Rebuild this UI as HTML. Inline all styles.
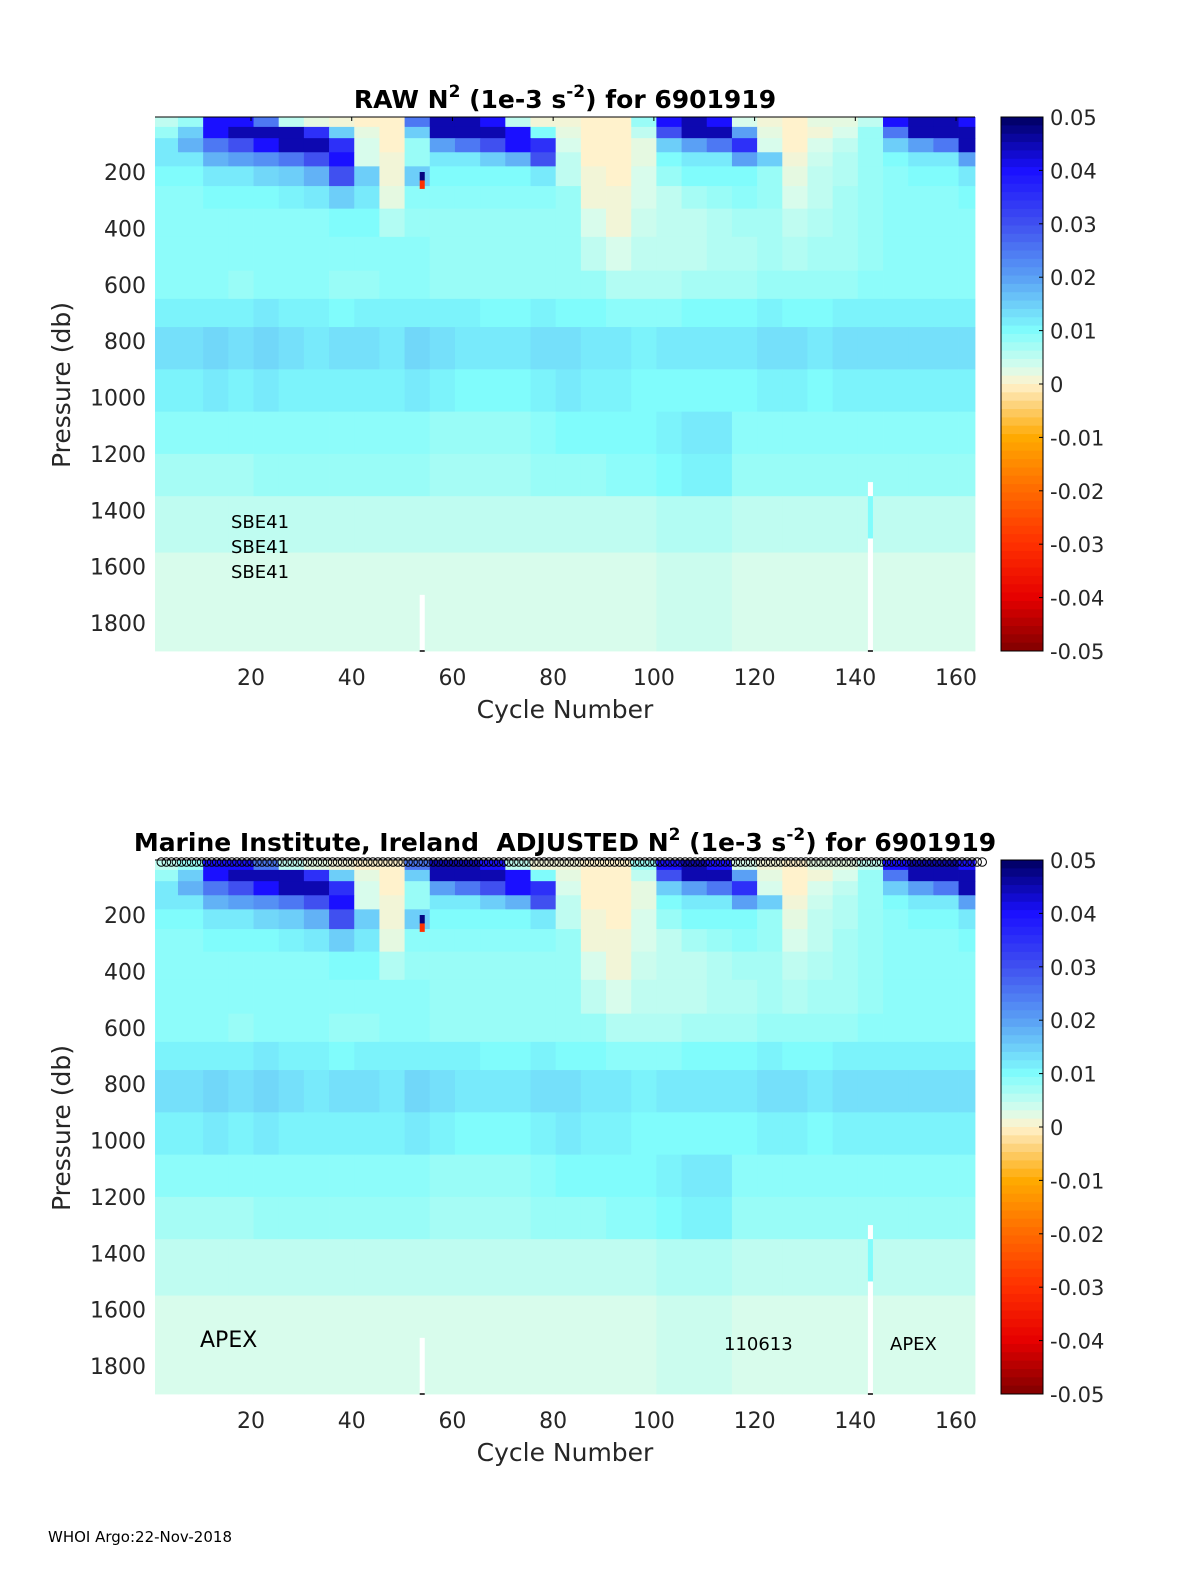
<!DOCTYPE html>
<html><head><meta charset="utf-8"><title>N2 sections 6901919</title>
<style>
html,body{margin:0;padding:0;background:#fff;}
svg{display:block;font-family:"DejaVu Sans","Liberation Sans",sans-serif;}
text{white-space:pre;}
</style></head>
<body>
<svg id="fig" width="1200" height="1575" viewBox="0 0 1200 1575" xmlns="http://www.w3.org/2000/svg">
<g id="panels"></g>
<text x="48" y="1542" font-size="15" fill="#000">WHOI Argo:22-Nov-2018</text>
</svg>
<script>
// ---- data (units 1e-3 of colour scale, i.e. value/1000) ----
const pressureEdges = [5,40,80,130,180,250,330,430,550,650,750,900,1050,1200,1350,1550,1900];
const cycleGroupSize = 5;
const band0 = [5,8,40,40,25,5,2,1,0,0,25,45,45,40,5,1,1,0,0,8,40,45,40,3,1,0,2,2,5,40,45,45,40];
const band1 = [8,15,40,45,45,45,35,15,2,0,15,45,45,45,40,10,2,0,0,5,30,45,45,20,2,0,1,3,8,25,45,45,45];
const band2 = [12,18,25,30,40,45,45,35,3,0,8,20,25,30,40,35,3,0,0,2,15,20,25,35,3,0,3,5,8,15,20,25,45];
const band3 = [12,12,18,20,22,25,30,40,3,1,8,12,12,15,18,30,5,0,0,2,10,12,12,20,15,1,4,6,8,10,12,12,20];
const band4 = [10,10,12,12,14,15,18,30,15,1,15,10,10,10,10,12,5,1,0,3,8,10,10,10,8,2,5,6,8,9,10,10,12];
const band5 = [9,9,10,10,10,11,12,15,12,2,9,9,9,9,9,9,8,1,1,3,5,7,8,9,8,3,5,7,8,9,9,9,10];
const band6 = [9,9,9,9,9,9,9,10,10,6,8,8,8,8,8,8,8,3,1,4,5,5,6,7,7,5,6,7,8,9,9,9,9];
const band7 = [9,9,9,9,9,9,9,9,9,9,9,8,8,8,8,8,8,5,3,5,5,5,6,6,7,6,7,7,8,9,9,9,9];
const band8 = [9,9,9,8,9,9,9,8,8,9,9,8,8,8,8,8,8,8,6,6,6,7,7,7,8,8,8,8,9,9,9,9,9];
const band9 = [11,11,11,11,12,11,11,10,11,11,11,11,11,10,10,11,10,10,9,9,9,10,10,10,11,10,10,11,11,11,11,11,11];
const band10 = [13,13,14,13,14,13,12,13,13,12,14,13,12,12,12,13,13,12,12,11,12,12,12,12,13,13,12,13,13,13,13,13,13];
const band11 = [11,11,12,11,12,11,11,11,11,11,12,11,10,10,10,11,12,11,11,10,10,10,10,10,11,11,10,11,11,11,11,11,11];
const band12 = [9,9,9,9,9,9,9,9,9,9,9,8,8,8,8,9,10,10,10,10,11,12,12,9,9,9,9,9,9,9,9,9,9];
const band13 = [7,7,7,7,8,8,8,8,8,8,8,7,7,7,7,8,8,8,9,9,10,11,11,8,8,8,8,8,8,8,8,8,8];
const band14 = [5,5,5,5,5,5,5,5,5,5,5,5,5,5,5,5,5,5,5,5,6,6,6,5,5,5,5,5,5,5,5,5,5];
const band15 = [3,3,3,3,3,3,3,3,3,3,3,3,3,3,3,3,3,3,3,3,4,4,4,3,3,3,3,3,3,3,3,3,3];
const bands = [band0,band1,band2,band3,band4,band5,band6,band7,band8,band9,band10,band11,band12,band13,band14,band15];
// special single-cycle cells: cycle, pTop, pBottom, value (NaN = missing/white)
const specialCycles = [54,54,54,143,143,143];
const specialTop    = [200,230,1700,1300,1350,1500];
const specialBottom = [230,260,1900,1350,1500,1900];
const specialValue  = [48,-30,NaN,NaN,10,NaN];
const xTicks = [20,40,60,80,100,120,140,160];
const yTicks = [200,400,600,800,1000,1200,1400,1600,1800];
const cbTicks = [0.05,0.04,0.03,0.02,0.01,0,-0.01,-0.02,-0.03,-0.04,-0.05];
const cbLabels = ["0.05","0.04","0.03","0.02","0.01","0","-0.01","-0.02","-0.03","-0.04","-0.05"];
const nCycles = 164;

// colormap
const cmapV = [-50,-40,-30,-20,-10,-4,0,3,10,20,30,40,50];
const cmapC = [[128,0,0],[230,0,0],[255,48,0],[255,106,0],[255,170,0],[253,210,122],[255,242,204],[216,252,236],[128,252,252],[90,160,245],[64,80,240],[26,16,255],[0,0,96]];
function cmap(v){
  v=Math.max(-50,Math.min(50,v));
  for(let i=0;i<cmapV.length-1;i++){
    if(v<=cmapV[i+1]){const t=(v-cmapV[i])/(cmapV[i+1]-cmapV[i]);
      const a=cmapC[i],b=cmapC[i+1];
      return 'rgb('+a.map((c,k)=>Math.round(c+(b[k]-c)*t)).join(',')+')';}
  }
  return 'rgb(0,0,96)';
}
const NS='http://www.w3.org/2000/svg';
function mk(tag,attrs,parent){const e=document.createElementNS(NS,tag);for(const k in attrs)e.setAttribute(k,attrs[k]);parent.appendChild(e);return e;}

function drawPanel(dy, opts){
  const root=document.getElementById('panels');
  const g=mk('g',{},root);
  
  
  const X0=155,X1=975,Y0=117+dy,Y1=651+dy;
  const xs=c=>251+(c-20)*5.036;
  const ys=p=>Y0+55+(p-200)*0.2819;
  const clipX=x=>Math.max(X0,Math.min(X1,x));
  const hm=mk('g',{},g);
  
  
  bands.forEach((row,i)=>{
    row.forEach((v,j)=>{
      const xa=clipX(xs(j*cycleGroupSize+0.5)), xb=clipX(xs(j*cycleGroupSize+cycleGroupSize+0.5));
      const ya=ys(pressureEdges[i]), yb=ys(pressureEdges[i+1]);
      if(xb<=xa) return;
      const r=mk('rect',{x:xa.toFixed(2),y:Math.max(Y0,ya).toFixed(2),width:(xb-xa+0.4).toFixed(2),height:(Math.min(Y1,yb)-Math.max(Y0,ya)+0.4).toFixed(2),fill:cmap(v)},hm);
      
      
    });
  });
  specialCycles.forEach((c,k)=>{
    const v=specialValue[k];
    const r=mk('rect',{x:xs(c-0.5).toFixed(2),y:ys(specialTop[k]).toFixed(2),width:5.04,height:(ys(specialBottom[k])-ys(specialTop[k])).toFixed(2),fill:isNaN(v)?'#fff':cmap(v)},hm);
    
    
    if(isNaN(v)&&specialBottom[k]>=1900){mk('line',{x1:xs(c-0.5),x2:xs(c+0.5),y1:Y1,y2:Y1,stroke:'#000','stroke-width':1.5},hm);}
  });
  mk('line',{x1:X0,x2:X1,y1:Y0,y2:Y0,stroke:'#000','stroke-width':1},g);
  xTicks.forEach(t=>{
    mk('line',{x1:xs(t),x2:xs(t),y1:Y0,y2:Y0+4,stroke:'#000','stroke-width':1},g);
    const tx=mk('text',{x:xs(t),y:Y1+34,'font-size':22,'text-anchor':'middle',fill:'#262626'},g);
    tx.textContent=t;
    
    
  });
  yTicks.forEach(t=>{
    const ty=mk('text',{x:146,y:ys(t)+8,'font-size':22,'text-anchor':'end',fill:'#262626'},g);
    ty.textContent=t;
    
    
  });
  const xl=mk('text',{x:565,y:Y1+67,'font-size':25,'text-anchor':'middle',fill:'#262626'},g);
  xl.textContent='Cycle Number';
  
  
  const yl=mk('text',{x:0,y:0,'font-size':25,'text-anchor':'middle',fill:'#262626',transform:'translate(70,'+(Y0+268)+') rotate(-90)'},g);
  yl.textContent='Pressure (db)';
  
  
  const ti=mk('text',{x:opts.titleX,y:Y0-9,'font-size':25,'font-weight':'bold','text-anchor':'middle',fill:'#000'},g);
  
  
  opts.title.forEach(p=>{const s=mk('tspan',p.sup?{'font-size':17,dy:-11}:{dy:p.down||0},ti);s.textContent=p.t;});
  const CX=1001,CW=42;
  const cb=mk('g',{},g);
  
  
  const cys=v=>Y0+(0.05-v)/0.1*(Y1-Y0);
  for(let i=0;i<64;i++){
    const v0=0.05-i*0.1/64, v1=v0-0.1/64;
    mk('rect',{x:CX,y:cys(v0).toFixed(2),width:CW,height:(cys(v1)-cys(v0)+0.5).toFixed(2),fill:cmap((v0+v1)/2*1000)},cb);
  }
  mk('rect',{x:CX,y:Y0,width:CW,height:Y1-Y0,fill:'none',stroke:'#000','stroke-width':1},cb);
  cbTicks.forEach((t,k)=>{
    mk('line',{x1:CX+CW-4,x2:CX+CW,y1:cys(t),y2:cys(t),stroke:'#000','stroke-width':1},cb);
    const l=mk('text',{x:1050,y:cys(t)+8,'font-size':21,fill:'#262626'},cb);
    l.textContent=cbLabels[k];
    
    
  });
  opts.notes.forEach(n=>{
    const a=mk('text',{x:n.x,y:n.y+dy,'font-size':n.s,fill:'#000'},g);
    a.textContent=n.t;
    
    
  });
  if(opts.circles){
    const cg=mk('g',{},g);
    
    
    for(let c=1;c<=nCycles;c++){
      mk('circle',{cx:xs(c)+6,cy:Y0+2,r:4.3,fill:'none',stroke:'#000','stroke-width':1},cg);
    }
  }
}
drawPanel(0,{name:'raw-panel',titleX:565,
  title:[{t:'RAW N'},{t:'2',sup:true},{t:' (1e-3 s',down:11},{t:'-2',sup:true},{t:') for 6901919',down:11}],
  notes:[{x:231,y:528,s:18,t:'SBE41'},{x:231,y:553,s:18,t:'SBE41'},{x:231,y:578,s:18,t:'SBE41'}],circles:false});
drawPanel(743,{name:'adjusted-panel',titleX:565,
  title:[{t:'Marine Institute, Ireland  ADJUSTED N'},{t:'2',sup:true},{t:' (1e-3 s',down:11},{t:'-2',sup:true},{t:') for 6901919',down:11}],
  notes:[{x:200,y:604,s:22,t:'APEX'},{x:724,y:607,s:18,t:'110613'},{x:890,y:607,s:18,t:'APEX'}],circles:true});
</script>
</body></html>
